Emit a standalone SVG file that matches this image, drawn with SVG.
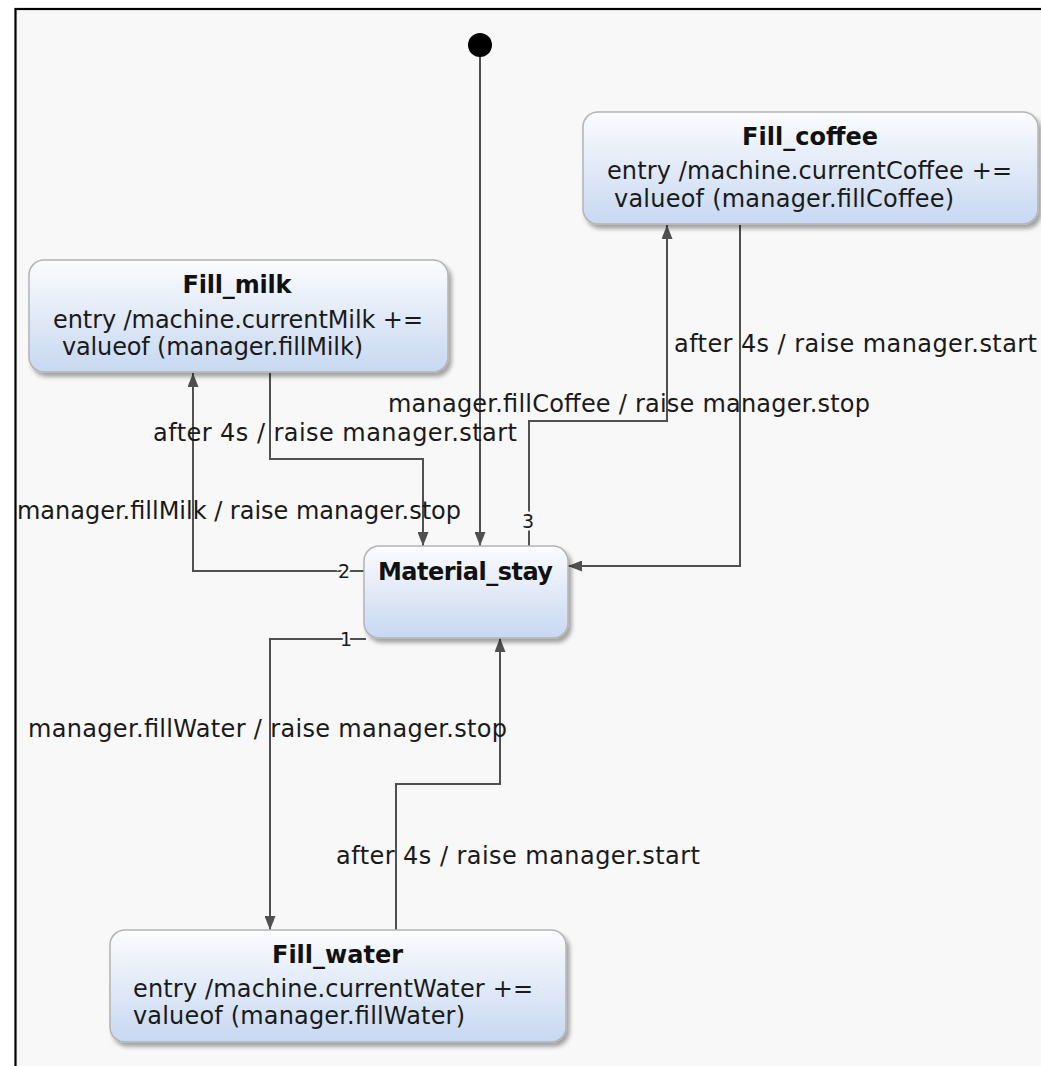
<svg xmlns="http://www.w3.org/2000/svg" width="1041" height="1066" viewBox="0 0 1041 1066">
  <style>
    .frame { fill: #f8f8f8; stroke: #000; stroke-width: 2.2; }
    .state { fill: url(#stateFill); stroke: #b4b4b4; stroke-width: 1.5; filter: url(#shadow); }
    .title { font-family: "DejaVu Sans", Verdana, sans-serif; font-size: 24px; font-weight: bold; fill: #111; text-anchor: middle; }
    .body { font-family: "DejaVu Sans", Verdana, sans-serif; font-size: 24px; fill: #1a1a1a; }
    .arrow { fill: none; stroke: #505050; stroke-width: 2; marker-end: url(#head); }
    .label { font-family: "DejaVu Sans", Verdana, sans-serif; font-size: 24px; fill: #1a1a1a; }
    .prio { font-family: "DejaVu Sans", Verdana, sans-serif; font-size: 19px; fill: #1a1a1a; text-anchor: middle; stroke: #f8f8f8; stroke-width: 5; paint-order: stroke; }
  </style>
  <defs>
    <linearGradient id="stateFill" x1="0" y1="0" x2="0" y2="1">
      <stop offset="0" stop-color="#fbfcfe"/>
      <stop offset="1" stop-color="#c7d8f1"/>
    </linearGradient>
    <filter id="shadow" x="-10%" y="-10%" width="125%" height="135%">
      <feDropShadow dx="3" dy="4" stdDeviation="2" flood-color="#000" flood-opacity="0.35"/>
    </filter>
    <marker id="head" viewBox="0 0 14 11" refX="14" refY="5.5" markerWidth="14" markerHeight="11" markerUnits="userSpaceOnUse" orient="auto">
      <path d="M0,0 L14,5.5 L0,11 Z" fill="#505050"/>
    </marker>
  </defs>

  <!-- canvas -->
  <rect x="0" y="0" width="1041" height="1066" fill="#ffffff"/>
  <rect class="frame" x="15.5" y="9" width="1040" height="1070"/>

  <!-- transitions -->
  <g id="connectors">
    <!-- initial -> Material_stay -->
    <path class="arrow" d="M480,57 V546"/>
    <!-- Material_stay -> Fill_milk -->
    <path class="arrow" d="M364,571 H193 V373"/>
    <!-- Fill_milk -> Material_stay -->
    <path class="arrow" d="M270,373 V459 H423 V546"/>
    <!-- Material_stay -> Fill_coffee -->
    <path class="arrow" d="M529,546 V421 H667 V225"/>
    <!-- Fill_coffee -> Material_stay -->
    <path class="arrow" d="M740,225 V566 H568"/>
    <!-- Material_stay -> Fill_water -->
    <path class="arrow" d="M366,639 H270 V930"/>
    <!-- Fill_water -> Material_stay -->
    <path class="arrow" d="M396,930 V784 H500 V638"/>

    <text class="label" x="674" y="352" textLength="363">after 4s / raise manager.start</text>
    <text class="label" x="388" y="412" textLength="482">manager.fillCoffee / raise manager.stop</text>
    <text class="label" x="153" y="441" textLength="364">after 4s / raise manager.start</text>
    <text class="label" x="17" y="519" textLength="444">manager.fillMilk / raise manager.stop</text>
    <text class="label" x="28" y="737" textLength="479">manager.fillWater / raise manager.stop</text>
    <text class="label" x="336" y="864" textLength="364">after 4s / raise manager.start</text>

    <text class="prio" x="344" y="578">2</text>
    <text class="prio" x="346" y="646">1</text>
    <text class="prio" x="528" y="528">3</text>
  </g>

  <!-- initial pseudo-state -->
  <g id="initial">
    <circle cx="480" cy="45" r="12" fill="#000"/>
  </g>

  <g id="Fill_coffee">
    <rect class="state" x="583" y="112" width="455" height="112" rx="15"/>
    <text class="title" x="810" y="145" textLength="136">Fill_coffee</text>
    <text class="body" x="607" y="179" textLength="405">entry /machine.currentCoffee +=</text>
    <text class="body" x="614" y="207" textLength="340">valueof (manager.fillCoffee)</text>
  </g>

  <g id="Fill_milk">
    <rect class="state" x="29" y="260" width="419" height="112" rx="15"/>
    <text class="title" x="237" y="293" textLength="109">Fill_milk</text>
    <text class="body" x="53" y="328" textLength="370">entry /machine.currentMilk +=</text>
    <text class="body" x="62" y="355" textLength="301">valueof (manager.fillMilk)</text>
  </g>

  <g id="Material_stay">
    <rect class="state" x="364" y="546" width="204" height="92" rx="15"/>
    <text class="title" x="465.5" y="580" textLength="175">Material_stay</text>
  </g>

  <g id="Fill_water">
    <rect class="state" x="110" y="930" width="456" height="112" rx="15"/>
    <text class="title" x="337.5" y="963" textLength="131">Fill_water</text>
    <text class="body" x="133" y="997" textLength="400">entry /machine.currentWater +=</text>
    <text class="body" x="133" y="1024" textLength="332">valueof (manager.fillWater)</text>
  </g>
</svg>
